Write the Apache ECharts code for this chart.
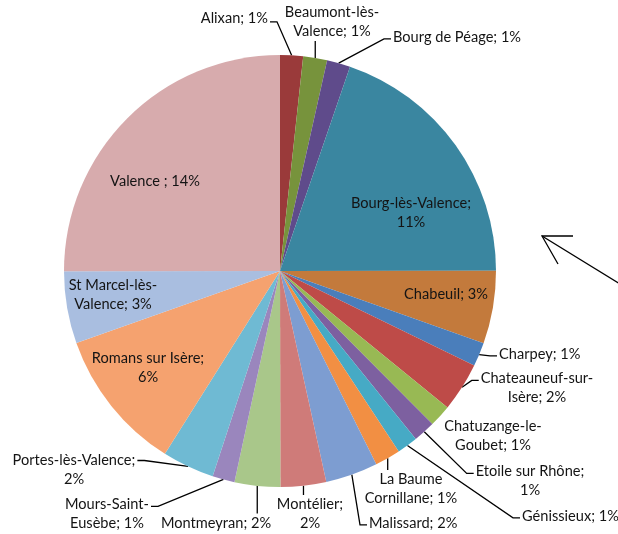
<!DOCTYPE html>
<html>
<head>
<meta charset="utf-8">
<script src="https://cdn.jsdelivr.net/npm/echarts@6/dist/echarts.min.js"></script>
<style>
  html, body { margin: 0; padding: 0; background: #fff; }
  #pie { width: 618px; height: 534px; }
</style>
</head>
<body>
<div id="pie"></div>
<script>
// communes, dans l'ordre du camembert (sens horaire depuis midi)
const communes = ['Alixan', 'Beaumont-lès-Valence', 'Bourg de Péage', 'Bourg-lès-Valence', 'Chabeuil',
  'Charpey', 'Chateauneuf-sur-Isère', 'Chatuzange-le-Goubet', 'Etoile sur Rhône', 'Génissieux',
  'La Baume Cornillane', 'Malissard', 'Montélier', 'Montmeyran', 'Mours-Saint-Eusèbe',
  'Portes-lès-Valence', 'Romans sur Isère', 'St Marcel-lès-Valence', 'Valence']

// part en %
const parts = [0.96, 1.0, 0.98, 11.04, 3.05,
  1.0, 2.05, 0.93, 0.92, 0.87,
  1.07, 2.19, 1.91, 1.91, 0.93,
  2.18, 5.96, 3.02, 14.0]

// texte des étiquettes, {p} = pourcentage arrondi
const labelTexts = ['Alixan; {p}', 'Beaumont-lès-\nValence; {p}', 'Bourg de Péage; {p}', 'Bourg-lès-Valence;\n{p}', 'Chabeuil; {p}',
  'Charpey; {p}', 'Chateauneuf-sur-\nIsère; {p}', 'Chatuzange-le-\nGoubet; {p}', 'Etoile sur Rhône;\n{p}', 'Génissieux; {p}',
  'La Baume\nCornillane; {p}', 'Malissard; {p}', 'Montélier;\n{p}', 'Montmeyran; {p}', 'Mours-Saint-\nEusèbe; {p}',
  'Portes-lès-Valence;\n{p}', 'Romans sur Isère;\n{p}', 'St Marcel-lès-\nValence; {p}', 'Valence ; {p}']

const colors = ['#9a3a3a', '#77933c', '#5f4b8b', '#3a86a0', '#c37a3c',
  '#4a7ebb', '#be4b48', '#98b954', '#7d60a0', '#46aac5',
  '#f28f43', '#7d9dd1', '#cf7b79', '#a9c78a', '#9a86bd',
  '#6fbad3', '#f5a26f', '#a9bee0', '#d7abad']

// étiquettes dans les parts
const insideLabels = ['Bourg-lès-Valence', 'Chabeuil', 'Romans sur Isère', 'St Marcel-lès-Valence', 'Valence']

// placement des étiquettes : x, y, alignement, côté du trait, hauteur du trait (fraction)
const labelPlace = [
  { x: 268, y: 18, align: 'right', side: 'right', f: 0.7 },
  { x: 332, y: 22, align: 'center', side: 'bottom' },
  { x: 393, y: 37, align: 'left', side: 'left', f: 0.6 },
  { x: 411, y: 213, align: 'center' },
  { x: 446, y: 294, align: 'center' },
  { x: 499, y: 354, align: 'left', side: 'left', f: 0.6 },
  { x: 537, y: 388, align: 'center', side: 'left', f: 0.3 },
  { x: 493, y: 436, align: 'center' },
  { x: 530, y: 481, align: 'center', side: 'left', f: 0.3 },
  { x: 522, y: 516, align: 'left', side: 'left', f: 0.6 },
  { x: 411, y: 489, align: 'center', side: 'top' },
  { x: 369, y: 523, align: 'left', side: 'left', f: 0.6 },
  { x: 310, y: 514, align: 'center', side: 'top' },
  { x: 216, y: 523, align: 'center', side: 'top' },
  { x: 107, y: 514, align: 'center', side: 'right', f: 0.3 },
  { x: 74, y: 470, align: 'center', side: 'right', f: 0.25 },
  { x: 148, y: 368, align: 'center' },
  { x: 113, y: 295, align: 'center' },
  { x: 155, y: 181, align: 'center' }
]

const dom = document.querySelector('#pie')
const myChart = echarts.init(dom)

const pieData = communes.map((name, i) => {
  const inside = insideLabels.includes(name)
  return {
    name: name,
    value: parts[i],
    itemStyle: { color: colors[i] },
    label: { position: inside ? 'inside' : 'outside' },
    labelLine: { show: !inside && labelPlace[i].side !== undefined }
  }
})

option = {
  animation: false,
  textStyle: { fontFamily: 'Lato' },
  series: [
    {
      type: 'pie',
      center: [280, 271],
      radius: 216,
      startAngle: 90,
      clockwise: true,
      avoidLabelOverlap: false,
      data: pieData,
      itemStyle: { borderWidth: 0 },
      emphasis: { disabled: true },
      label: {
        fontFamily: 'Lato',
        fontSize: 14.6,
        lineHeight: 19,
        color: '#141414',
        formatter: p => labelTexts[p.dataIndex].replace('{p}', Math.round(p.value) + '%')
      },
      labelLine: {
        length: 10,
        length2: 8,
        lineStyle: { color: '#000', width: 1.3 }
      },
      labelLayout: function (params) {
        const p = labelPlace[params.dataIndex]
        const w = params.labelRect.width
        const h = params.labelRect.height
        const left = p.align === 'left' ? p.x : (p.align === 'right' ? p.x - w : p.x - w / 2)
        const top = p.y - h / 2
        const res = { x: p.x, y: p.y, align: p.align, verticalAlign: 'middle' }
        const pts = params.labelLinePoints
        if (p.side && pts) {
          const p0 = pts[0]
          let end, mid
          if (p.side === 'left') {
            end = [left - 2, top + h * p.f]
            mid = [end[0] - 7, end[1]]
          } else if (p.side === 'right') {
            end = [left + w + 2, top + h * p.f]
            mid = [end[0] + 7, end[1]]
          } else if (p.side === 'top') {
            end = [p0[0], top]
            mid = end
          } else {
            end = [p0[0], top + h]
            mid = end
          }
          res.labelLinePoints = [p0, mid, end]
        }
        return res
      }
    }
  ],
  // flèche ajoutée à droite
  graphic: [
    { type: 'line', shape: { x1: 620, y1: 284, x2: 542, y2: 236 }, style: { stroke: '#000', lineWidth: 1.3 } },
    { type: 'polyline', shape: { points: [[573, 236], [542, 236], [558, 264]] }, style: { stroke: '#000', lineWidth: 1.3, fill: null } }
  ]
}

myChart.setOption(option)
</script>
</body>
</html>
